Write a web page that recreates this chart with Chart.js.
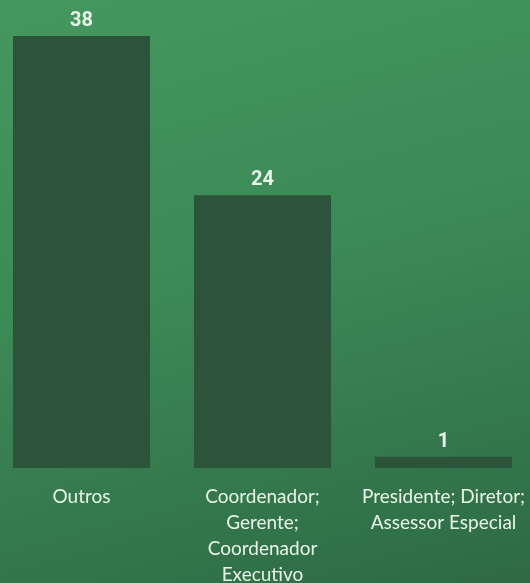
<!DOCTYPE html>
<html>
<head>
<meta charset="utf-8">
<script src="https://cdn.jsdelivr.net/npm/chart.js@4"></script>
<style>
  html, body { margin: 0; padding: 0; width: 530px; height: 583px; overflow: hidden; }
  body { background: linear-gradient(165deg, #45975f 0%, #3c8a57 45%, #2e6a45 100%); position: relative; }
  #wrap { position: absolute; left: -9px; top: 0; width: 543px; height: 583px; }
</style>
</head>
<body>
<div id="wrap"><canvas id="chart-cargos"></canvas></div>
<script>
var categories = [
  ["Outros"],
  ["Coordenador;", "Gerente;", "Coordenador", "Executivo"],
  ["Presidente; Diretor;", "Assessor Especial"]
];
var counts = [38, 24, 1];

var ctx = document.getElementById("chart-cargos").getContext("2d");

// draws the value over each bar (no datalabels plugin here)
var valueLabels = {
  id: "valueLabels",
  afterDatasetsDraw: function (chart) {
    var meta = chart.getDatasetMeta(0);
    var c = chart.ctx;
    c.save();
    c.fillStyle = "#e8f5e9";
    c.font = "bold 20px Roboto";
    c.textAlign = "center";
    c.textBaseline = "alphabetic";
    meta.data.forEach(function (bar, i) {
      c.fillText(counts[i], bar.x, bar.y - 10);
    });
    c.restore();
  }
};

var myChart = new Chart(ctx, {
  type: "bar",
  data: {
    labels: categories,
    datasets: [{
      data: counts,
      backgroundColor: "#2c543a",
      borderWidth: 0,
      barPercentage: 0.757,
      categoryPercentage: 1
    }]
  },
  options: {
    responsive: true,
    maintainAspectRatio: false,
    animation: false,
    layout: { padding: 0 },
    plugins: {
      legend: { display: false },
      tooltip: { enabled: false }
    },
    scales: {
      y: {
        display: false,
        min: 0,
        max: 41.17
      },
      x: {
        grid: { display: false, drawTicks: false },
        border: { display: false },
        ticks: {
          color: "#e8f5e9",
          padding: 16,
          maxRotation: 0,
          autoSkip: false,
          font: { family: "Lato", size: 19, lineHeight: "26px" }
        },
        afterFit: function (scale) {
          scale.height = 115;
          // keep the labels from shrinking the plot area
          scale.paddingLeft = 0;
          scale.paddingRight = 0;
        }
      }
    }
  },
  plugins: [valueLabels]
});
</script>
</body>
</html>
